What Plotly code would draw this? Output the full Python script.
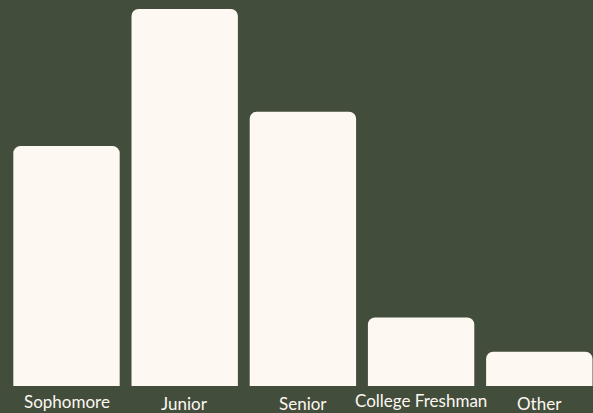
import plotly.graph_objects as go

categories = ["Sophomore", "Junior", "Senior", "College Freshman", "Other"]
values = [7, 11, 8, 2, 1]

BG = "#434d3c"
BAR = "#fdf8f1"
TXT = "#fdf8f1"

# small vertical offsets of each category label (px, positive = down)
label_drop = [0, 2, 2, -1, 2]

fig = go.Figure(go.Bar(x=list(range(len(categories))), y=values,
                       marker=dict(color=BAR, line=dict(width=0)),
                       hovertext=categories, hoverinfo="text+y"))
for i, (c, d) in enumerate(zip(categories, label_drop)):
    fig.add_annotation(x=i, y=0, xref="x", yref="paper", text=c, showarrow=False,
                       yanchor="top", yshift=-3 - d,
                       font=dict(family="Lato", size=17, color=TXT))
fig.update_layout(
    width=593, height=413,
    margin=dict(l=0, r=0, t=9, b=27),
    paper_bgcolor=BG, plot_bgcolor=BG,
    bargap=0.1,
    barcornerradius=7,
    showlegend=False,
    font=dict(family="Lato", size=17, color=TXT),
)
fig.update_xaxes(showgrid=False, zeroline=False, showline=False, ticks="",
                 showticklabels=False, range=[-0.5626, 4.4543])
fig.update_yaxes(visible=False, range=[0, 11])
fig.write_html("out.html", config={"displayModeBar": False},
               post_script="document.body.style.margin='0';document.body.style.overflow='hidden';document.body.style.background='%s';" % BG)
